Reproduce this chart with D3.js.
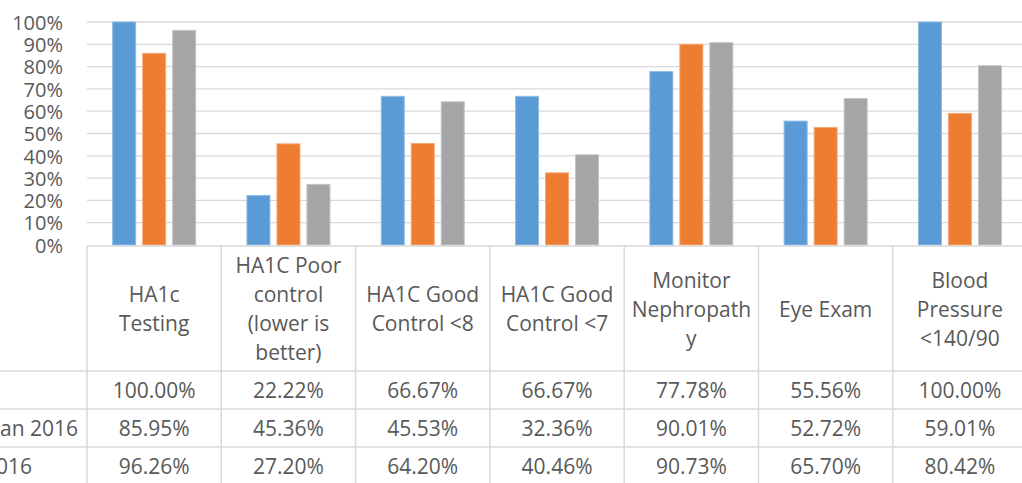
<!DOCTYPE html>
<html>
<head>
<meta charset="utf-8">
<script src="https://cdn.jsdelivr.net/npm/d3@7"></script>
<style>
  body { margin: 0; background: #fff; }
  text { font-family: "Open Sans", sans-serif; fill: #595959; }
</style>
</head>
<body>
<div class="chart"></div>
<script>
// chart data
var categories = [
  ["HA1c", "Testing"],
  ["HA1C Poor", "control", "(lower is", "better)"],
  ["HA1C Good", "Control <8"],
  ["HA1C Good", "Control <7"],
  ["Monitor", "Nephropath", "y"],
  ["Eye Exam"],
  ["Blood", "Pressure", "<140/90"]
];
var seriesNames = ["Clinic 2016", "UDS Mean Jan 2016", "UDS Goal 2016"];
var clinic2016 = [1.0, 0.2222, 0.6667, 0.6667, 0.7778, 0.5556, 1.0];
var meanJan2016 = [0.8595, 0.4536, 0.4553, 0.3236, 0.9001, 0.5272, 0.5901];
var goal2016 = [0.9626, 0.2720, 0.6420, 0.4046, 0.9073, 0.6570, 0.8042];
var yTicks = [0, 0.1, 0.2, 0.3, 0.4, 0.5, 0.6, 0.7, 0.8, 0.9, 1.0];

var seriesValues = [clinic2016, meanJan2016, goal2016];
var colors = ["#5B9BD5", "#ED7D31", "#A5A5A5"];
var strokes = ["#8fbbe3", "#f4a877", "#c4c4c4"];

var svgWidth = 1022;
var svgHeight = 483;
var plotLeft = 87;
var catWidth = 134.3;
var plotTop = 22;
var plotBottom = 245;
var headerBottom = 371;
var rowHeight = 38;
var gridColor = "#d9d9d9";

var svg = d3.select(".chart").append("svg")
  .attr("width", svgWidth)
  .attr("height", svgHeight);

var idx = d3.range(categories.length);

var x = d3.scaleBand()
  .domain(idx)
  .range([plotLeft, plotLeft + catWidth * categories.length]);

var x1 = d3.scaleBand()
  .domain(d3.range(seriesNames.length))
  .range([0, x.bandwidth()])
  .paddingInner(0.233)
  .paddingOuter(0.855);

var y = d3.scaleLinear().domain([0, 1]).range([plotBottom, plotTop]);

var pct = d3.format(".0%");
var pct2 = d3.format(".2%");

// gridlines
svg.append("g").selectAll("line")
  .data(yTicks.filter(function(d) { return d > 0; }))
  .enter().append("line")
  .attr("x1", plotLeft)
  .attr("x2", x.range()[1])
  .attr("y1", function(d) { return y(d); })
  .attr("y2", function(d) { return y(d); })
  .attr("stroke", gridColor)
  .attr("stroke-width", 1.3);

// y axis labels (no axis line in the original)
var leftAxis = d3.axisLeft(y).tickValues(yTicks).tickFormat(pct).tickSize(0).tickPadding(0);
var yAxis = svg.append("g")
  .attr("transform", "translate(63,0)")
  .call(leftAxis);
yAxis.select(".domain").remove();
yAxis.selectAll("text")
  .attr("font-family", "Open Sans")
  .attr("font-size", 20)
  .attr("fill", "#595959")
  .attr("dy", "0.36em");

// bars
var groups = svg.append("g").selectAll("g")
  .data(seriesValues)
  .enter().append("g")
  .attr("fill", function(d, i) { return colors[i]; })
  .attr("stroke", function(d, i) { return strokes[i]; });

groups.each(function(vals, s) {
  d3.select(this).selectAll("rect")
    .data(vals)
    .enter().append("rect")
    .attr("x", function(d, i) { return x(i) + x1(s); })
    .attr("width", x1.bandwidth())
    .attr("y", function(d) { return y(d); })
    .attr("height", function(d) { return y(0) - y(d); })
    .attr("stroke-width", 1);
});

// data table
var table = svg.append("g");
var tableBottom = headerBottom + rowHeight * seriesNames.length;

// top border = category axis
table.append("line")
  .attr("x1", plotLeft).attr("x2", x.range()[1])
  .attr("y1", plotBottom + 1).attr("y2", plotBottom + 1)
  .attr("stroke", gridColor).attr("stroke-width", 1.5);

// vertical cell borders
table.selectAll(".vline")
  .data(d3.range(categories.length + 1))
  .enter().append("line")
  .attr("class", "vline")
  .attr("x1", function(i) { return plotLeft + i * x.bandwidth(); })
  .attr("x2", function(i) { return plotLeft + i * x.bandwidth(); })
  .attr("y1", plotBottom + 1)
  .attr("y2", tableBottom)
  .attr("stroke", gridColor).attr("stroke-width", 1.5);

// horizontal row borders
table.selectAll(".hline")
  .data(d3.range(seriesNames.length + 1))
  .enter().append("line")
  .attr("class", "hline")
  .attr("x1", -200)
  .attr("x2", x.range()[1])
  .attr("y1", function(r) { return headerBottom + r * rowHeight; })
  .attr("y2", function(r) { return headerBottom + r * rowHeight; })
  .attr("stroke", gridColor).attr("stroke-width", 1.5);

// header labels
var lineH = 29;
var headerMid = (plotBottom + headerBottom) / 2 + 1;
table.selectAll(".head")
  .data(categories)
  .enter().append("text")
  .attr("class", "head")
  .attr("text-anchor", "middle")
  .attr("font-size", 21)
  .each(function(lines, i) {
    var t = d3.select(this);
    lines.forEach(function(line, k) {
      t.append("tspan")
        .attr("x", x(i) + x.bandwidth() / 2)
        .attr("y", headerMid + 7.5 + (k - (lines.length - 1) / 2) * lineH)
        .text(line);
    });
  });

// value cells
seriesValues.forEach(function(vals, s) {
  var rowMid = headerBottom + s * rowHeight + rowHeight / 2;
  table.append("g").selectAll("text")
    .data(vals)
    .enter().append("text")
    .attr("text-anchor", "middle")
    .attr("font-size", 21)
    .attr("x", function(d, i) { return x(i) + x.bandwidth() / 2; })
    .attr("y", rowMid + 7.5)
    .text(function(d) { return pct2(d); });
});

// row labels, left part is cut off by the picture edge
var labels = table.append("g").selectAll("text")
  .data(seriesNames)
  .enter().append("text")
  .attr("font-size", 21)
  .attr("y", function(d, s) { return headerBottom + s * rowHeight + rowHeight / 2 + 7.5; })
  .text(function(d) { return d; });
var lastLen = labels.nodes()[seriesNames.length - 1].getComputedTextLength();
labels.attr("x", 32 - lastLen);
</script>
</body>
</html>
